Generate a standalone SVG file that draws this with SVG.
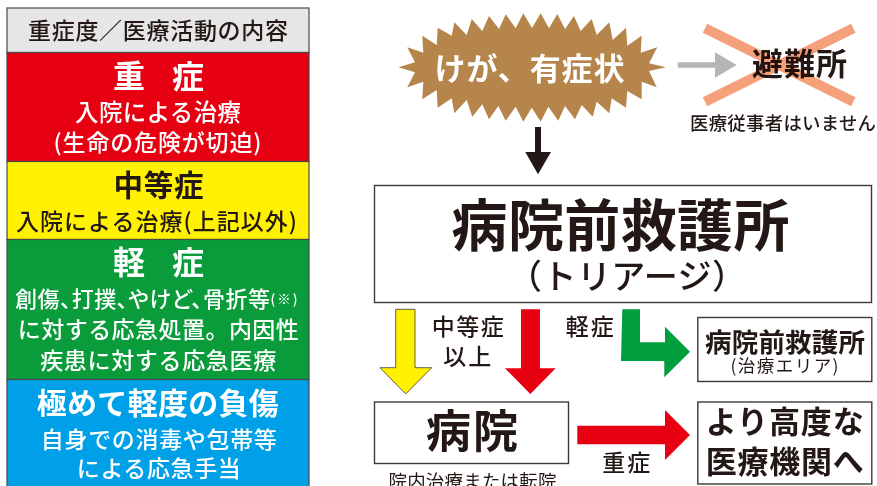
<svg xmlns="http://www.w3.org/2000/svg" width="877" height="486" viewBox="0 0 877 486">
<style>
text{font-family:"Noto Sans CJK JP","Noto Sans CJK SC",sans-serif;text-anchor:middle;fill:#231815}
.w{fill:#fff}
.m{font-weight:500}
.b{font-weight:700}
.p{font-feature-settings:"palt"}
.box{fill:#fff;stroke:#3e3a39;stroke-width:1.4}
.row{stroke:#4a4a46;stroke-width:1.2}
</style>
<rect width="877" height="486" fill="#fff"/>
<g id="table-header"><rect class="row" x="7" y="8" width="302" height="44.5" fill="#e6e6e6"/>
<text class="m" x="158" y="39" font-size="23" textLength="260" lengthAdjust="spacing">重症度／医療活動の内容</text></g>
<g id="table-severe"><rect class="row" x="7" y="52.500" width="302" height="109" fill="#e60012"/>
<text class="b w" x="129" y="87.500" font-size="32">重</text><text class="b w" x="188" y="87.500" font-size="32">症</text>
<text class="m w" x="158" y="121" font-size="23.400" textLength="166" lengthAdjust="spacing">入院による治療</text>
<text class="m w" x="157.500" y="151" font-size="23" textLength="208" lengthAdjust="spacing">(生命の危険が切迫)</text></g>
<g id="table-moderate"><rect class="row" x="7" y="161.500" width="302" height="78" fill="#fff100"/>
<text class="b" x="158.500" y="195.500" font-size="29.500" textLength="90" lengthAdjust="spacing">中等症</text>
<text class="m" x="156.500" y="230" font-size="23" textLength="281" lengthAdjust="spacing">入院による治療(上記以外)</text></g>
<g id="table-minor"><rect class="row" x="7" y="239.500" width="302" height="140" fill="#0a9b3a"/>
<text class="b w" x="129" y="274" font-size="32">軽</text><text class="b w" x="188" y="274" font-size="32">症</text>
<text class="m w p" x="142.500" y="307" font-size="22" textLength="255" lengthAdjust="spacing">創傷、打撲、やけど、骨折等</text>
<text class="m w p" x="284" y="304" font-size="13.500" textLength="27" lengthAdjust="spacing">(※)</text>
<text class="m w" x="158.300" y="337.500" font-size="23" textLength="281" lengthAdjust="spacing">に対する応急処置。内因性</text>
<text class="m w" x="158.200" y="368.500" font-size="23" textLength="236" lengthAdjust="spacing">疾患に対する応急医療</text></g>
<g id="table-slight"><rect class="row" x="7" y="379.500" width="302" height="110" fill="#00a0e9"/>
<text class="b w" x="157.800" y="414" font-size="30" textLength="242" lengthAdjust="spacing">極めて軽度の負傷</text>
<text class="m w" x="158.800" y="447.500" font-size="23" textLength="236" lengthAdjust="spacing">自身での消毒や包帯等</text>
<text class="m w" x="158.800" y="476.500" font-size="23" textLength="164" lengthAdjust="spacing">による応急手当</text></g>
<g id="injury"><polygon fill="#b5854b" points="398.300,67.300 415,62.300 407.300,47.300 423.300,52.700 422.300,35.700 436.700,45 437.700,27.700 451.700,35.700 454.300,22.300 466.700,35 471.700,19 482.300,31 489,16 499,29 505.700,14.300 515.700,28.300 523.300,13.300 532,28 540.700,13.300 549,28.300 557.300,14 565,29 574,16 580.700,31 591.700,19 596.700,35 609.300,22.300 612.700,40 626,27.700 627.300,45.700 641.700,35.700 640.700,52.700 657.300,47.300 649,63.300 666,67.300 649,71 656.700,87.300 641.700,81.700 641.700,99.300 627.300,91 626,107.700 611.700,98.300 609.300,113.300 596.700,101.700 592.700,116.700 581.700,105 575,119.300 565,106 558.300,120.700 548.300,106.700 540.700,121.700 531.700,107.700 523.300,121.700 515.700,106.700 505.700,120.700 498.300,106 489,119.300 482.300,104.300 472.300,116.700 466.700,100 454.300,113.300 451.700,98.300 437.700,107.700 436.700,90 422.300,99.300 423.300,81.700 407.300,87.300 415,72.300"/>
<text class="b w" x="529.500" y="80" font-size="31" textLength="190" lengthAdjust="spacing">けが、有症状</text></g>
<g id="shelter"><text class="b" x="799.500" y="74.500" font-size="31" textLength="95" lengthAdjust="spacing">避難所</text>
<path d="M705 28.300L853.300 101.700M853.300 28.300L705 101.700" stroke="#f4a07a" stroke-width="10" fill="none" style="mix-blend-mode:multiply"/>
<text class="m" x="783" y="129.500" font-size="18.400" textLength="186" lengthAdjust="spacing">医療従事者はいません</text></g>
<g id="triage"><rect class="box" x="374.500" y="185.500" width="497" height="117"/>
<text class="b" x="620.500" y="246" font-size="56" textLength="338" lengthAdjust="spacing">病院前救護所</text>
<text class="m" x="627" y="289" font-size="34" textLength="238" lengthAdjust="spacing">（トリアージ）</text></g>
<g id="treatment-area"><rect class="box" x="697.800" y="317.500" width="174" height="64"/>
<text class="b" x="785" y="351.500" font-size="26.500" textLength="160" lengthAdjust="spacing">病院前救護所</text>
<text x="784.500" y="372" font-size="17.500" textLength="108" lengthAdjust="spacing">(治療エリア)</text></g>
<g id="hospital"><rect class="box" x="374.500" y="402" width="194" height="61.500"/>
<text class="b" x="472" y="448" font-size="45" textLength="92" lengthAdjust="spacing">病院</text>
<text x="472.500" y="487.500" font-size="18.500" textLength="168" lengthAdjust="spacing">院内治療または転院</text></g>
<g id="advanced-care"><rect class="box" x="697.800" y="402" width="174" height="82"/>
<text class="b" x="784.700" y="433" font-size="31" textLength="158" lengthAdjust="spacing">より高度な</text>
<text class="b" x="784.700" y="473" font-size="31" textLength="158" lengthAdjust="spacing">医療機関へ</text></g>
<g id="connectors">
<polygon fill="#231815" points="535,127 541,127 541,152 551,152 538,174.300 525.300,152 535,152"/>
<polygon fill="#b5b5b6" points="677.700,62.300 715,62.300 715,52.300 736.700,65 715,77.700 715,67.700 677.700,67.700"/>
<polygon fill="#fff100" stroke="#3e3a39" stroke-width=".8" points="395.700,309.300 415,309.300 415,367.700 431.700,367.700 405.700,394 380,367.700 395.700,367.700"/>
<polygon fill="#e60012" points="521,309.300 540,309.300 540,368.300 555.700,368.300 530.300,394 505,368.300 521,368.300"/>
<polygon fill="#009e3c" points="622.300,309.300 640,309.300 640,342.300 665,342.300 665,326.700 690,351.700 664.300,377.300 664.300,361 621,361"/>
<polygon fill="#e60012" points="577.300,425.700 665,425.700 665,410 690,435 665,460 665,444.300 577.300,444.300"/>
<text class="m" x="467.700" y="335" font-size="23" textLength="72" lengthAdjust="spacing">中等症</text>
<text class="m" x="467.300" y="365" font-size="23" textLength="48" lengthAdjust="spacing">以上</text>
<text class="m" x="589.700" y="335" font-size="23" textLength="48" lengthAdjust="spacing">軽症</text>
<text class="m" x="626.300" y="470.500" font-size="23" textLength="48" lengthAdjust="spacing">重症</text>
</g>
</svg>
